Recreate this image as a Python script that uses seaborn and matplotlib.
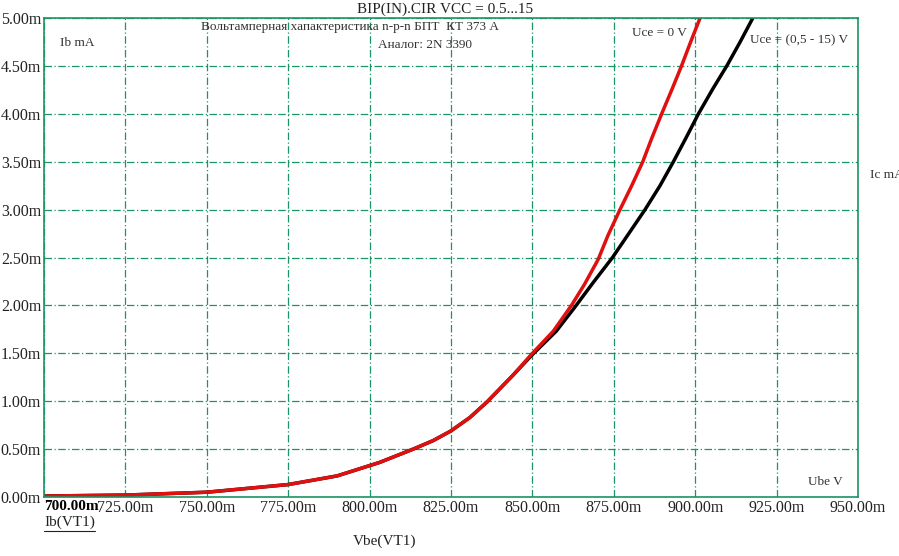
import numpy as np
import pandas as pd
import matplotlib
matplotlib.use("Agg")
import matplotlib.pyplot as plt
import seaborn as sns

# Ib vs Vbe for two Uce conditions (values in mV / mA)
vbe_uce0 = [700, 725, 750, 775, 790, 803, 813.4, 819.6, 825, 830.8, 836, 844, 850, 856.4, 862,
            866, 870.2, 873.2, 876.9, 880.5, 883.9, 886.6, 889.7, 892.8, 895.8, 898.6, 901.5]
ib_uce0 = [0.01, 0.02, 0.05, 0.13, 0.22, 0.36, 0.50, 0.59, 0.69, 0.83, 0.99, 1.27, 1.50, 1.73, 2.00,
           2.22, 2.48, 2.73, 3.00, 3.25, 3.50, 3.74, 4.00, 4.25, 4.50, 4.75, 5.00]

vbe_uce15 = [700, 725, 750, 775, 790, 803, 813.4, 819.6, 825, 830.8, 836, 844, 849.8, 857.3, 863,
             868.7, 874.6, 879.4, 884.6, 889.2, 893.3, 897.2, 901.0, 905.4, 909.7, 913.8, 917.7]
ib_uce15 = [0.01, 0.02, 0.05, 0.13, 0.22, 0.36, 0.50, 0.59, 0.69, 0.83, 0.99, 1.27, 1.48, 1.73, 1.98,
            2.24, 2.50, 2.74, 3.00, 3.25, 3.50, 3.75, 4.00, 4.26, 4.50, 4.75, 5.00]

x_ticks = [700, 725, 750, 775, 800, 825, 850, 875, 900, 925, 950]
y_ticks = [0, 0.5, 1.0, 1.5, 2.0, 2.5, 3.0, 3.5, 4.0, 4.5, 5.0]

sns.set_theme(style="white")
plt.rcParams['font.family'] = ['Liberation Serif', 'DejaVu Serif']

grid_color = '#1a9565'

fig = plt.figure(figsize=(8.99, 5.56), dpi=100)
ax = fig.add_axes([44 / 899, 59 / 556, 814 / 899, 479 / 556])

df = pd.concat([
    pd.DataFrame({'vbe': vbe_uce15, 'ib': ib_uce15, 'uce': '0.5-15'}),
    pd.DataFrame({'vbe': vbe_uce0, 'ib': ib_uce0, 'uce': '0'}),
])
sns.lineplot(data=df, x='vbe', y='ib', hue='uce', palette={'0.5-15': '#000000', '0': '#e01010'},
             linewidth=2.5, sort=False, legend=False, ax=ax)
for ln in ax.get_lines():
    ln.set_solid_joinstyle('round')

ax.set_xlim(700, 950)
ax.set_ylim(0, 5)
ax.set_xticks(x_ticks)
ax.set_yticks(y_ticks)
ax.set_xticklabels([f"{v:.2f}m" for v in x_ticks], fontsize=11.5, color='#222222')
ax.set_yticklabels([f"{v:.2f}m" for v in y_ticks], fontsize=11.5, color='#222222')
first = ax.get_xticklabels()[0]
first.set_horizontalalignment('left')
first.set_fontweight('bold')
first.set_fontsize(11)
first.set_color('black')
ax.tick_params(length=0, pad=2)
ax.set_xlabel('')
ax.set_ylabel('')

ax.grid(True, color=grid_color, linestyle=(0, (6, 2, 1, 2)), linewidth=0.9)
for s in ax.spines.values():
    s.set_color(grid_color)
    s.set_linewidth(1.2)

# texts
fig.text(445 / 899, 1 - 9 / 556, 'BIP(IN).CIR VCC = 0.5...15', ha='center', va='center', fontsize=11, color='#222222')
fig.text(350 / 899, 1 - 27 / 556, 'Вольтамперная хапактеристика n-p-n БПТ  КТ 373 А',
         ha='center', va='center', fontsize=9.5, color='#333333')
fig.text(425 / 899, 1 - 45 / 556, 'Аналог: 2N 3390', ha='center', va='center', fontsize=9.5, color='#333333')
fig.text(60 / 899, 1 - 43 / 556, 'Ib mA', ha='left', va='center', fontsize=9.5, color='#333333')
fig.text(632 / 899, 1 - 33 / 556, 'Uce = 0 V', ha='left', va='center', fontsize=9.5, color='#333333')
fig.text(750 / 899, 1 - 40 / 556, 'Uce = (0,5 - 15) V', ha='left', va='center', fontsize=9.5, color='#333333')
fig.text(870 / 899, 1 - 175 / 556, 'Ic mA', ha='left', va='center', fontsize=9.5, color='#333333')
fig.text(808 / 899, 1 - 482 / 556, 'Ube V', ha='left', va='center', fontsize=9.5, color='#333333')
fig.text(44 / 899, 1 - 522 / 556, 'Ib(VT1)', ha='left', va='center', fontsize=11, color='#222222')
fig.add_artist(plt.Line2D([44 / 899, 95 / 899], [1 - 531 / 556, 1 - 531 / 556], color='#222222', linewidth=0.8))
fig.text(385 / 899, 1 - 541 / 556, 'Vbe(VT1)', ha='center', va='center', fontsize=11, color='#222222')

fig.savefig('out.png', dpi=100)
